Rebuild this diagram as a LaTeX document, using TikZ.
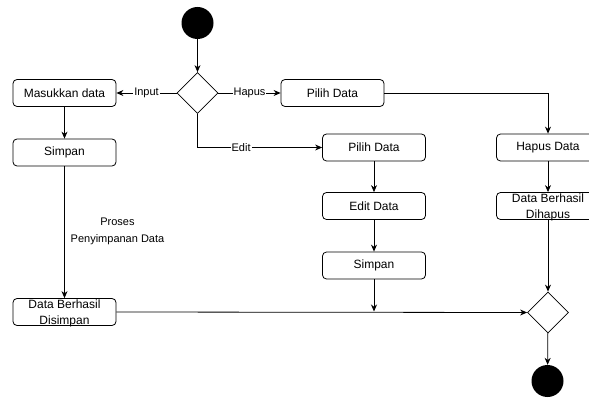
\documentclass[tikz,border=0pt]{standalone}
\usepackage{fontspec}
\setmainfont{Liberation Sans}
\usetikzlibrary{shapes.geometric,arrows.meta}
\tikzset{
  box/.style={draw, rounded corners=4pt, minimum width=103pt, minimum height=27pt, inner sep=0pt, font=\fontsize{12}{16}\selectfont, line width=0.8pt},
  boxtext/.style={align=center, inner sep=0pt, font=\fontsize{12}{16}\selectfont},
  dec/.style={draw, diamond, minimum width=41pt, minimum height=41pt, inner sep=0pt, line width=0.8pt},
  dot/.style={circle, fill=black, minimum size=32pt, inner sep=0pt},
  flow/.style={line width=0.8pt, -{Stealth[length=7pt,width=6pt]}},
  lbl/.style={fill=white, inner sep=1pt, font=\fontsize{11}{13}\selectfont},
}
\begin{document}
\begin{tikzpicture}[x=1pt,y=-1pt]
\clip (0,0) rectangle (589,398);
\fill[white] (0,0) rectangle (589,398);
\node[dot] (start) at (197.5,23) {};
\node[dec] (d1) at (197.5,93) {};
\node[box] (masuk) at (64.5,93) {Masukkan data};
\node[box] (simpan1) at (64.5,152.5) {Simpan};
\node[box] (dbs) at (64.5,312) {};
\node[boxtext] (dbst) at (64.5,313) {Data Berhasil\\Disimpan};
\node[box] (pilih1) at (332.5,93) {Pilih Data};
\node[box] (pilih2) at (374,147.5) {Pilih Data};
\node[box] (editd) at (374,206) {Edit Data};
\node[box] (simpan2) at (374,265.5) {Simpan};
\node[box] (hapusd) at (548,147.5) {Hapus Data};
\node[box] (dbh) at (548,206) {};
\node[boxtext] (dbht) at (548,207) {Data Berhasil\\Dihapus};
\node[dec] (d2) at (548,312.5) {};
\node[dot] (end) at (547.5,381) {};
\node[align=center, font=\fontsize{11}{17}\selectfont] (proses) at (117.5,231) {Proses\\Penyimpanan Data};
\coordinate (s2end) at (374,311.5);

\draw[flow] (start) -- (d1);
\draw[flow] (d1.west) -- node[lbl] {Input} (masuk.east);
\draw[flow] (d1.east) -- node[lbl] {Hapus} (pilih1.west);
\draw[flow] (d1.south) |- node[lbl, pos=0.675] {Edit} (pilih2.west);
\draw[flow] (masuk) -- (simpan1);
\draw[flow] (simpan1) -- (dbs);
\draw[flow] (pilih1.east) -| (hapusd.north);
\draw[flow] (pilih2) -- (editd);
\draw[flow] (editd) -- (simpan2);
\draw[flow] (simpan2) -- (s2end);
\draw[flow] (hapusd) -- (dbh);
\draw[flow] (dbh) -- (d2);
\draw[flow] (dbs.east) -- (d2.west);
\draw[flow] (d2) -- (end);
\end{tikzpicture}
\end{document}
